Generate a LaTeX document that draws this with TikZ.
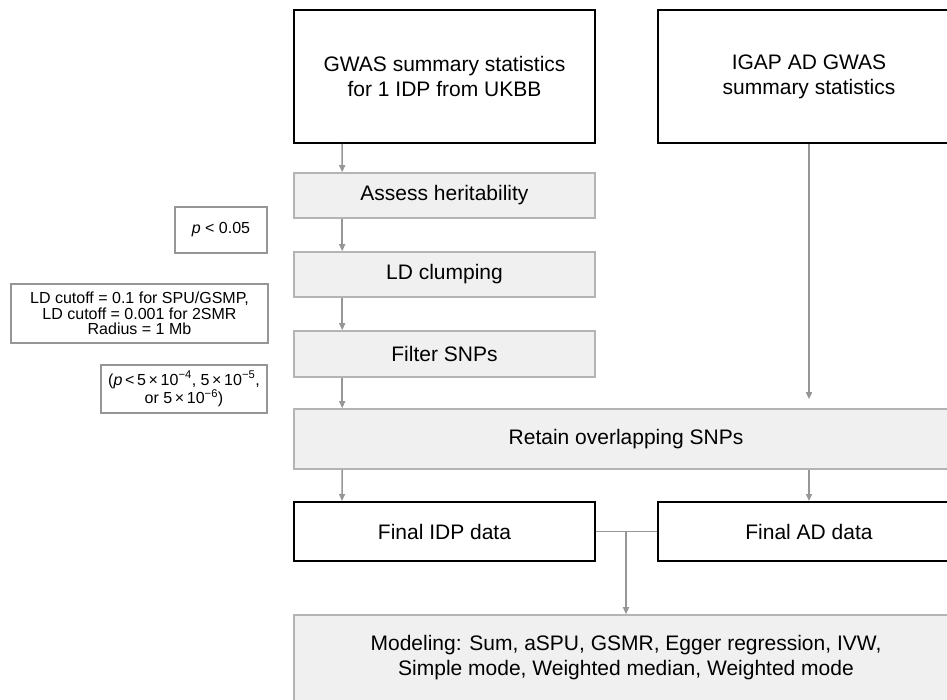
\documentclass[tikz,border=0pt]{standalone}
\usepackage{fontspec}
\setmainfont{Liberation Sans}
\usetikzlibrary{arrows.meta,calc}
\definecolor{boxgray}{RGB}{240,240,240}
\definecolor{edgegray}{RGB}{180,180,180}
\definecolor{flowgray}{RGB}{150,150,150}
\definecolor{notegray}{RGB}{150,150,150}
\newcommand{\mainsize}{\fontsize{21}{25}\selectfont}
\newcommand{\notesize}{\fontsize{16}{15.5}\selectfont}
\tikzset{
  tbox/.style={draw=black, line width=2pt, fill=white, inner sep=0pt,
               align=center, font=\mainsize},
  gbox/.style={draw=edgegray, fill=boxgray, line width=1.6pt, inner sep=0pt,
               align=center, font=\mainsize},
  nbox/.style={draw=notegray, line width=1.4pt, fill=white, inner sep=0pt,
               align=center, font=\notesize},
  flow/.style={flowgray, line width=1.5pt, -{Triangle[length=7pt,width=6pt]}},
  link/.style={flowgray, line width=1.5pt},
}

\begin{document}
\begin{tikzpicture}[x=1pt,y=-1pt]
  \useasboundingbox (0,0) rectangle (947,700);
  \clip (0,0) rectangle (947,700);
  % data sources
  \node[tbox, minimum width=301pt, minimum height=133pt] (gwas) at (444.5,76.5)
    {GWAS summary statistics\\for 1 IDP from UKBB};
  \node[tbox, minimum width=302pt, minimum height=133pt] (igap) at (809,76.5)
    {IGAP AD GWAS\\summary statistics};
  % IDP processing steps
  \node[gbox, minimum width=301pt, minimum height=45pt] (herit) at (444.5,195.5) {Assess heritability};
  \node[gbox, minimum width=301pt, minimum height=45pt] (clump) at (444.5,274.5) {LD clumping};
  \node[gbox, minimum width=301pt, minimum height=46pt] (filt) at (444.5,354) {Filter SNPs};
  \node[gbox, minimum width=664pt, minimum height=60pt] (retain) at (626,439) {Retain overlapping SNPs};
  \node[tbox, minimum width=301pt, minimum height=59pt] (finidp) at (444.5,531.5) {Final IDP data};
  \node[tbox, minimum width=302pt, minimum height=59pt] (finad) at (809,531.5) {Final AD data};
  \node[gbox, minimum width=664pt, minimum height=86pt] (model) at (626,658)
    {Modeling: Sum, aSPU, GSMR, Egger regression, IVW,\\Simple mode, Weighted median, Weighted mode};
  % side notes
  \node[nbox, minimum width=92pt, minimum height=46pt] (pval) at (221,230) {\textit{p} < 0.05};
  \node[nbox, minimum width=257pt, minimum height=59pt] (ldcut) at (139.5,313.5)
    {LD cutoff = 0.1 for SPU/GSMP,\\LD cutoff = 0.001 for 2SMR\\Radius = 1 Mb};
  \node[nbox, minimum width=166pt, minimum height=48pt] (pthr) at (184,389)
    {(\textit{p}\,<\,5\,×\,10\textsuperscript{−4}, 5\,×\,10\textsuperscript{−5},\\or 5\,×\,10\textsuperscript{−6})};
  % arrows
  \draw[flow] ([xshift=49pt]gwas.south west) -- ([xshift=49pt]herit.north west);
  \draw[flow] ([xshift=49pt]herit.south west) -- ([xshift=49pt]clump.north west);
  \draw[flow] ([xshift=49pt]clump.south west) -- ([xshift=49pt]filt.north west);
  \draw[flow] ([xshift=49pt]filt.south west) -- ([xshift=49pt]retain.north west);
  \draw[flow, shorten >=9pt] (igap.south) -- (igap.south |- retain.north);
  \draw[flow] ([xshift=49pt]retain.south west) -- ([xshift=49pt]finidp.north west);
  \draw[flow] (finad.north |- retain.south) -- (finad.north);
  \draw[link] (finidp.east) -- (finad.west);
  \draw[flow] (model.north |- finidp.east) -- (model.north);
\end{tikzpicture}
\end{document}
